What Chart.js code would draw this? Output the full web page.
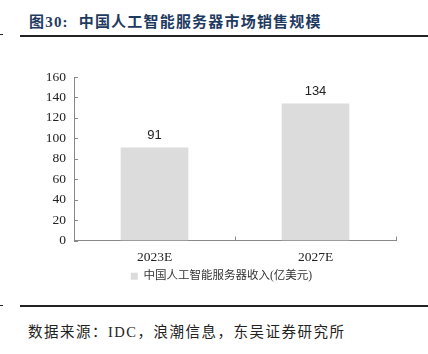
<!DOCTYPE html>
<html>
<head>
<meta charset="utf-8">
<script src="https://cdn.jsdelivr.net/npm/chart.js@4.4.0/dist/chart.umd.min.js"></script>
<style>
    body { margin: 0; width: 428px; height: 354px; background: #fff; position: relative; overflow: hidden; }
    #title { position: absolute; left: 29px; top: 10px; font: bold 15px "Liberation Serif", "Noto Sans CJK SC", serif; color: #1f3a5f; letter-spacing: 1.2px; white-space: nowrap; }
    .rule { position: absolute; height: 2px; background: #222; }
    #source { position: absolute; left: 28px; top: 320px; font: 14.5px "Liberation Serif", "Noto Sans CJK SC", serif; color: #222; white-space: nowrap; letter-spacing: 1.5px; }
    #wrap { position: absolute; left: 0; top: 60px; width: 428px; height: 240px; }
</style>
</head>
<body>
<div id="title">图30:&nbsp;&nbsp;中国人工智能服务器市场销售规模</div>
<div class="rule" style="left:0;top:34px;width:3px;height:1px;"></div>
<div class="rule" style="left:20px;top:35px;width:408px;"></div>
<div class="rule" style="left:0;top:305px;width:3px;height:1px;"></div>
<div class="rule" style="left:20px;top:305px;width:408px;"></div>
<div id="source">数据来源：IDC，浪潮信息，东吴证券研究所</div>
<div id="wrap"><canvas id="server_chart"></canvas></div>
<script>
// 中国人工智能服务器收入 (亿美元)
const years = ['2023E', '2027E'];
const revenue = [91, 134];
const y_ticks = [0, 20, 40, 60, 80, 100, 120, 140, 160];

const axis_color = '#888888';

/*
 * Inward tick marks for both axes
 */
const innerTicks = {
    id: 'innerTicks',
    afterDraw(chart) {
        const ctx = chart.ctx;
        const x = chart.scales.x;
        const y = chart.scales.y;
        ctx.save();
        ctx.strokeStyle = axis_color;
        ctx.lineWidth = 1;
        ctx.beginPath();
        y.ticks.forEach(function(t) {
            const py = Math.round(y.getPixelForValue(t.value)) + 0.5;
            ctx.moveTo(x.left, py);
            ctx.lineTo(x.left + 4, py);
        });
        const n = years.length;
        for (let i = 0; i <= n; i++) {
            const px = Math.round(x.left + i * (x.width / n)) + 0.5;
            ctx.moveTo(px, y.bottom);
            ctx.lineTo(px, y.bottom - 4);
        }
        ctx.stroke();
        ctx.restore();
    }
};

/*
 * Value labels above bars
 */
const valueLabels = {
    id: 'valueLabels',
    afterDatasetsDraw(chart) {
        const ctx = chart.ctx;
        const meta = chart.getDatasetMeta(0);
        ctx.save();
        ctx.font = '13px "Liberation Sans", Arial, sans-serif';
        ctx.fillStyle = '#222';
        ctx.textAlign = 'center';
        ctx.textBaseline = 'bottom';
        meta.data.forEach(function(bar, i) {
            ctx.fillText(String(revenue[i]), bar.x, bar.y - 6);
        });
        ctx.restore();
    }
};

const data = {
    labels: years,
    datasets: [{
        label: '中国人工智能服务器收入(亿美元)',
        backgroundColor: '#dcdcdc',
        data: revenue,
        barPercentage: 0.42,
        categoryPercentage: 1.0,
    }]
};

const config = {
    type: 'bar',
    data: data,
    options: {
        responsive: true,
        maintainAspectRatio: false,
        animation: false,
        layout: {
            padding: { left: 47, right: 32, top: 17, bottom: 8 }
        },
        scales: {
            y: {
                min: 0,
                max: 160,
                afterBuildTicks: function(scale) {
                    scale.ticks = y_ticks.map(function(v) { return { value: v }; });
                },
                afterFit: function(scale) { scale.width = 27; },
                grid: { display: false, drawTicks: false },
                border: { display: true, color: axis_color },
                ticks: {
                    padding: 8,
                    color: '#222',
                    font: { family: '"Liberation Serif", "Times New Roman", serif', size: 13.5 }
                }
            },
            x: {
                grid: { display: false, drawTicks: false },
                border: { display: true, color: axis_color },
                afterFit: function(scale) { scale.height = 26; },
                ticks: {
                    padding: 9,
                    color: '#222',
                    font: { family: '"Liberation Serif", "Times New Roman", serif', size: 13.5 }
                }
            }
        },
        plugins: {
            tooltip: { enabled: false },
            legend: {
                display: true,
                position: 'bottom',
                align: 'center',
                labels: {
                    boxWidth: 7,
                    boxHeight: 7,
                    padding: 4,
                    color: '#333',
                    font: { family: '"Liberation Serif", "Noto Sans CJK SC", serif', size: 11.5 }
                }
            }
        }
    },
    plugins: [innerTicks, valueLabels]
};

const myChart = new Chart(document.getElementById('server_chart'), config);
</script>
</body>
</html>
